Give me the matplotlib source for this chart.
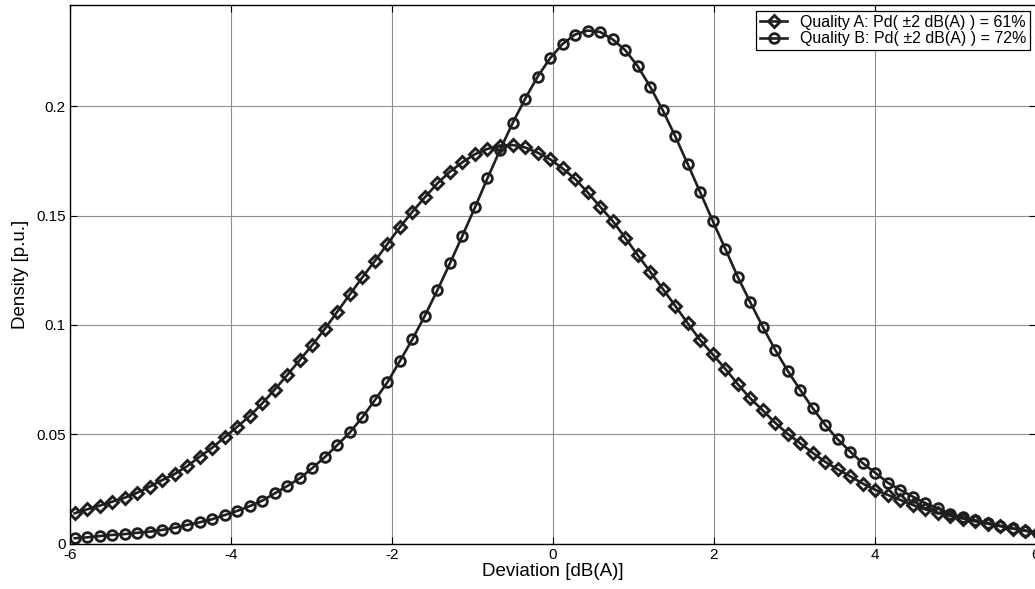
import matplotlib
matplotlib.use("Agg")
import matplotlib.pyplot as plt

# sample positions shared by both curves (deviation in dB(A))
deviation = [
    -5.942, -5.787, -5.631, -5.476, -5.320, -5.165, -5.010, -4.854, -4.699, -4.543,
    -4.388, -4.233, -4.077, -3.922, -3.766, -3.611, -3.456, -3.300, -3.145, -2.989,
    -2.834, -2.679, -2.523, -2.368, -2.212, -2.057, -1.902, -1.746, -1.591, -1.435,
    -1.280, -1.125, -0.969, -0.814, -0.658, -0.503, -0.348, -0.192, -0.037, 0.119,
    0.274, 0.429, 0.585, 0.740, 0.896, 1.051, 1.206, 1.362, 1.517, 1.673,
    1.828, 1.983, 2.139, 2.294, 2.450, 2.605, 2.760, 2.916, 3.071, 3.227,
    3.382, 3.537, 3.693, 3.848, 4.004, 4.159, 4.314, 4.470, 4.625, 4.781,
    4.936, 5.091, 5.247, 5.402, 5.558, 5.713, 5.868, 6.024,
]

density_a = [
    0.0139, 0.0157, 0.0174, 0.0192, 0.0210, 0.0233, 0.0261, 0.0291, 0.0319, 0.0355,
    0.0398, 0.0439, 0.0487, 0.0535, 0.0584, 0.0642, 0.0705, 0.0772, 0.0840, 0.0909,
    0.0982, 0.1061, 0.1140, 0.1218, 0.1293, 0.1370, 0.1447, 0.1518, 0.1584, 0.1648,
    0.1701, 0.1744, 0.1781, 0.1805, 0.1818, 0.1823, 0.1812, 0.1788, 0.1758, 0.1716,
    0.1668, 0.1607, 0.1541, 0.1476, 0.1399, 0.1320, 0.1244, 0.1166, 0.1088, 0.1008,
    0.0931, 0.0866, 0.0800, 0.0730, 0.0665, 0.0610, 0.0553, 0.0502, 0.0459, 0.0415,
    0.0374, 0.0340, 0.0308, 0.0275, 0.0246, 0.0223, 0.0200, 0.0177, 0.0157, 0.0142,
    0.0127, 0.0115, 0.0102, 0.0091, 0.0080, 0.0069, 0.0059, 0.0050,
]

density_b = [
    0.0025, 0.0029, 0.0035, 0.0040, 0.0044, 0.0050, 0.0055, 0.0063, 0.0073, 0.0086,
    0.0098, 0.0112, 0.0131, 0.0150, 0.0172, 0.0197, 0.0230, 0.0264, 0.0299, 0.0346,
    0.0396, 0.0451, 0.0509, 0.0578, 0.0657, 0.0738, 0.0835, 0.0935, 0.1043, 0.1160,
    0.1282, 0.1408, 0.1538, 0.1671, 0.1800, 0.1922, 0.2033, 0.2135, 0.2219, 0.2285,
    0.2328, 0.2346, 0.2340, 0.2306, 0.2257, 0.2184, 0.2090, 0.1983, 0.1864, 0.1736,
    0.1607, 0.1477, 0.1349, 0.1221, 0.1104, 0.0992, 0.0886, 0.0790, 0.0703, 0.0619,
    0.0543, 0.0477, 0.0421, 0.0368, 0.0324, 0.0279, 0.0246, 0.0215, 0.0185, 0.0162,
    0.0136, 0.0121, 0.0107, 0.0094, 0.0082, 0.0070, 0.0060, 0.0050,
]

label_a = "Quality A: Pd( \u00b12 dB(A) ) = 61%"
label_b = "Quality B: Pd( \u00b12 dB(A) ) = 72%"

x_ticks = [-6, -4, -2, 0, 2, 4, 6]
y_ticks = [0, 0.05, 0.1, 0.15, 0.2]
y_tick_labels = ["0", "0.05", "0.1", "0.15", "0.2"]

plt.rcParams["font.family"] = ["Liberation Sans", "DejaVu Sans"]
plt.rcParams["axes.unicode_minus"] = False

fig = plt.figure(figsize=(10.35, 5.89), dpi=100)
ax = fig.add_axes([70 / 1035, 45.3 / 589, 966 / 1035, 538.7 / 589])

line_col = "#1f1f1f"
ax.plot(deviation, density_a, color=line_col, lw=1.9, marker="D", ms=6.5,
        mfc="none", mec=line_col, mew=2.1, label=label_a)
ax.plot(deviation, density_b, color=line_col, lw=1.9, marker="o", ms=7,
        mfc="none", mec=line_col, mew=2.0, label=label_b)

ax.set_xlim(-6, 6)
ax.set_ylim(0, 0.2463)
ax.set_xticks(x_ticks)
ax.set_xticklabels([str(t) for t in x_ticks])
ax.set_yticks(y_ticks)
ax.set_yticklabels(y_tick_labels)
ax.grid(True, color="#8f8f8f", lw=0.8, ls="-")
ax.set_axisbelow(True)
ax.tick_params(direction="in", top=True, right=True, labelsize=11, length=5,
               pad=3, color="black")
for sp in ax.spines.values():
    sp.set_linewidth(1.0)
    sp.set_color("black")

ax.set_xlabel("Deviation [dB(A)]", fontsize=13.5, labelpad=1)
ax.set_ylabel("Density [p.u.]", fontsize=13.5, labelpad=5)

leg = ax.legend(loc="upper right", fontsize=11.5, frameon=True, fancybox=False,
                edgecolor="black", framealpha=1, borderaxespad=0.35,
                handlelength=1.7, handletextpad=0.8, borderpad=0.25,
                labelspacing=0.1)
leg.get_frame().set_linewidth(0.9)

fig.savefig("out.png", dpi=100)
